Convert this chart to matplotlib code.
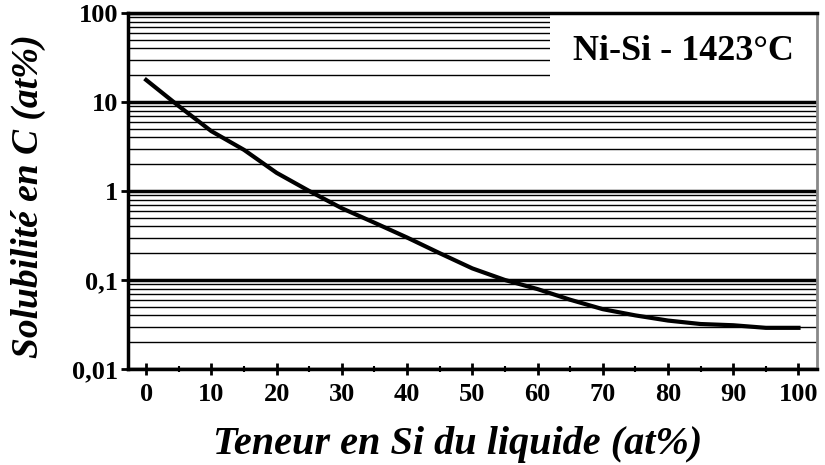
import matplotlib.pyplot as plt
from matplotlib.patches import Rectangle
from matplotlib.ticker import FixedLocator, NullFormatter

# teneur en Si (at%) et solubilité en C (at%)
si = [0, 5, 10, 15, 20, 25, 30, 35, 40, 45, 50, 55, 60, 65, 70, 75, 80, 85, 90, 95, 100]
c_sol = [17.7, 9.0, 4.7, 2.9, 1.6, 1.0, 0.64, 0.44, 0.30, 0.20, 0.135, 0.10, 0.079,
         0.060, 0.047, 0.040, 0.035, 0.032, 0.031, 0.029, 0.029]

y_ticks = [0.01, 0.1, 1, 10, 100]
y_labels = ["0,01", "0,1", "1", "10", "100"]
x_ticks = list(range(0, 101, 10))

plt.rcParams["font.family"] = ["Liberation Serif", "DejaVu Serif"]
plt.rcParams["font.weight"] = "bold"

fig = plt.figure(figsize=(8.25, 4.65), dpi=100)
ax = fig.add_axes([0.155, 0.2065, 0.835, 0.7655])

ax.set_yscale("log")
ax.set_ylim(0.01, 100)
ax.set_xlim(-2.8, 102.8)

ax.set_yticks(y_ticks)
ax.set_yticklabels(y_labels, fontsize=19, fontweight="bold")
minor = [m * 10.0 ** e for e in range(-2, 2) for m in range(2, 10)]
ax.yaxis.set_minor_locator(FixedLocator(minor))
ax.yaxis.set_minor_formatter(NullFormatter())
ax.tick_params(axis="y", which="minor", length=0)
ax.tick_params(axis="y", which="major", length=5, width=2, direction="out", pad=2)

ax.set_xticks(x_ticks)
ax.set_xticklabels([str(v) for v in x_ticks], fontsize=19, fontweight="bold")
ax.set_xticks(list(range(5, 100, 10)), minor=True)
ax.tick_params(axis="x", which="major", length=8, width=2, direction="inout", pad=6)
ax.tick_params(axis="x", which="minor", length=5, width=1.5, direction="inout")

ax.set_axisbelow(True)
ax.grid(True, axis="y", which="major", color="black", linewidth=2.5)
ax.grid(True, axis="y", which="minor", color="black", linewidth=1)

for s in ["left", "bottom", "top"]:
    ax.spines[s].set_linewidth(2.5)
ax.spines["right"].set_color("#888888")
ax.spines["right"].set_linewidth(2)

ax.plot(si, c_sol, color="black", linewidth=3, zorder=3)

# cartouche
ax.add_patch(Rectangle((0.6125, 0.757), 0.3875, 0.243, transform=ax.transAxes,
                       facecolor="white", edgecolor="none", zorder=2))
ax.text(0.807, 0.893, "Ni-Si - 1423°C", transform=ax.transAxes, fontsize=26,
        fontweight="bold", ha="center", va="center", zorder=4)

ax.set_xlabel("Teneur en Si du liquide (at%)", fontsize=29, fontweight="bold",
              fontstyle="italic")
ax.xaxis.set_label_coords(0.478, -0.213, transform=ax.transAxes)
ax.xaxis.label.set_va("center")
ax.set_ylabel("Solubilité en C (at%)", fontsize=27, fontweight="bold",
              fontstyle="italic")
ax.yaxis.set_label_coords(-0.145, 0.485, transform=ax.transAxes)
ax.yaxis.label.set_va("center")

fig.savefig("out.png", dpi=100)
